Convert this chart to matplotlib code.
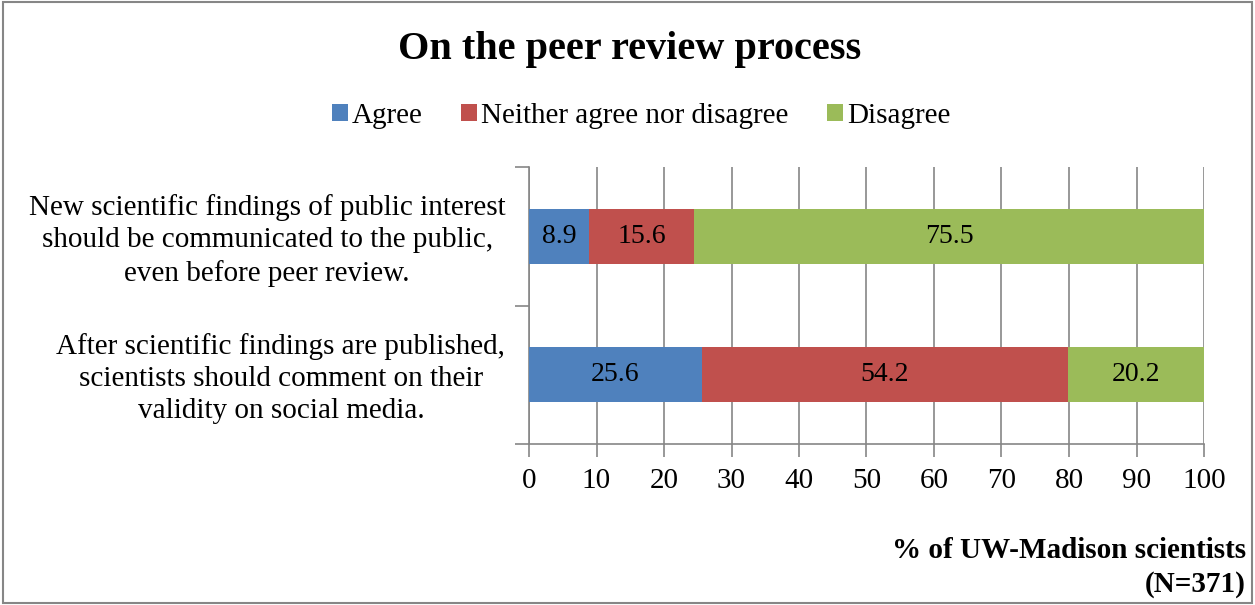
import numpy as np
import matplotlib.pyplot as plt
from matplotlib.patches import Rectangle

plt.rcParams['font.family'] = ['Liberation Serif', 'DejaVu Serif']

# Survey statements (top to bottom) and response shares in %
statements = [
    "New scientific findings of public interest\nshould be communicated to the public,\neven before peer review.",
    "After scientific findings are published,\nscientists should comment on their\nvalidity on social media.",
]
agree = [8.9, 25.6]
neither = [15.6, 54.2]
disagree = [75.5, 20.2]

series = ["Agree", "Neither agree nor disagree", "Disagree"]
colors = ["#4f81bd", "#c0504d", "#9bbb59"]

fig = plt.figure(figsize=(12.55, 6.05), dpi=100)
ax = fig.add_axes([529 / 1255, 1 - 444 / 605, 675 / 1255, 277 / 605])

y = np.array([1, 0])
left = np.zeros(2)
for name, vals, c in zip(series, [agree, neither, disagree], colors):
    vals = np.array(vals)
    bars = ax.barh(y, vals, left=left, height=0.4, color=c, label=name, zorder=3)
    for b, v in zip(bars, vals):
        ax.text(b.get_x() + b.get_width() / 2, b.get_y() + b.get_height() / 2,
                f"{v:.1f}", ha="center", va="center", fontsize=20, zorder=4)
    left += vals

ax.set_xlim(0, 100)
ax.set_ylim(-0.5, 1.5)
ax.set_xticks(np.arange(0, 101, 10))
ax.set_yticks([-0.5, 0.5, 1.5])
ax.set_yticklabels([])
ax.tick_params(axis="y", length=10, color="#868686", width=1.2)
ax.tick_params(axis="x", length=9, color="#868686", width=1.2, labelsize=21, pad=8)
ax.grid(axis="x", color="#868686", linewidth=1.2, zorder=0)
for s in ["top", "right"]:
    ax.spines[s].set_visible(False)
for s in ["left", "bottom"]:
    ax.spines[s].set_color("#868686")
    ax.spines[s].set_linewidth(1.2)

# category labels sit to the left of the axis, lines centred within the block
for yi, txt in zip(y, statements):
    ax.text(-3.5, yi - 0.03, txt, ha="right", va="center", multialignment="center",
            fontsize=21, linespacing=1.3, transform=ax.transData)

fig.text(630 / 1255, 1 - 50 / 605, "On the peer review process",
         ha="center", va="center", fontsize=29, fontweight="bold")

handles, labels = ax.get_legend_handles_labels()
fig.legend(handles, labels, loc="center", bbox_to_anchor=(641 / 1255, 1 - 116 / 605),
           ncol=3, frameon=False, fontsize=21, handlelength=0.55, handleheight=0.55,
           handletextpad=0.15, columnspacing=1.3)

fig.text(1246 / 1255, 1 - 551 / 605, "% of UW-Madison scientists",
         ha="right", va="center", fontsize=21, fontweight="bold")
fig.text(1246 / 1255, 1 - 584 / 605, "(N=371)",
         ha="right", va="center", fontsize=21, fontweight="bold")

# outer chart border
fig.patches.append(Rectangle((0.002, 0.003), 0.996, 0.994, transform=fig.transFigure,
                             fill=False, edgecolor="#868686", linewidth=1.5))

fig.savefig("out.png", dpi=100)
